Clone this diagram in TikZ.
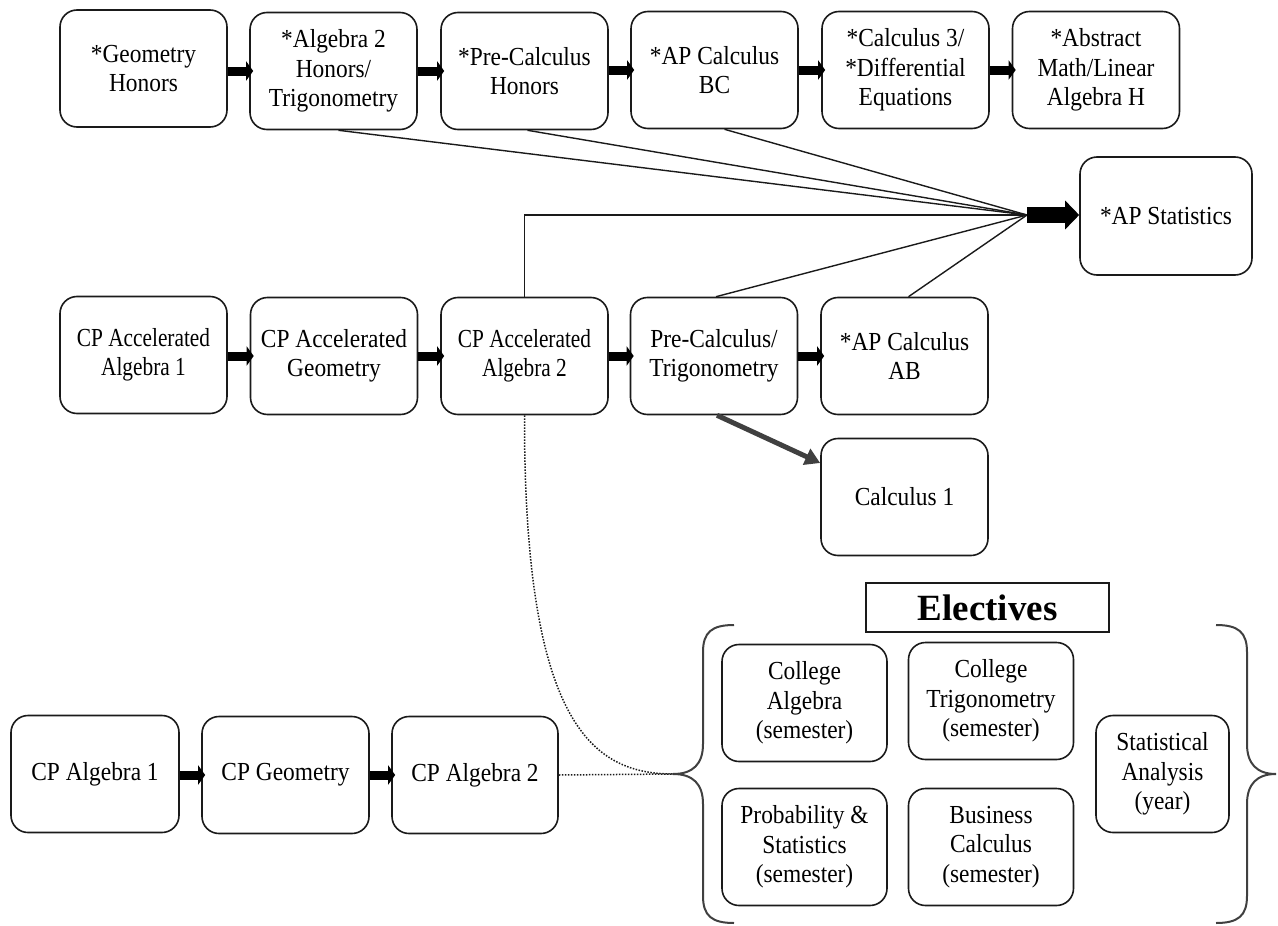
\documentclass[tikz,border=0pt]{standalone}
\usepackage{fontspec}
\setmainfont[FakeStretch=0.9]{Liberation Serif}
\newfontfamily\condfont[FakeStretch=0.82]{Liberation Serif}
\newfontfamily\plainserif{Liberation Serif}
\usetikzlibrary{arrows.meta,calc}
\definecolor{edge}{HTML}{1A1A1A}
\definecolor{darkgray}{HTML}{404040}
\begin{document}
\begin{tikzpicture}[x=1pt,y=-1pt,
  course/.style={draw=edge, line width=1.6pt, rounded corners=17pt, align=center,
    minimum width=167pt, minimum height=117pt, inner sep=2pt, fill=white,
    font=\fontsize{26}{29.5}\selectfont},
  cond/.style={font=\condfont\fontsize{26}{29.5}\selectfont},
  blockarrow/.style={line width=9pt, black, -{Triangle[length=7pt,width=19pt]}},
  bigarrow/.style={line width=16pt, black, -{Triangle[length=14pt,width=28pt]}},
  grayarrow/.style={line width=5pt, darkgray, -{Triangle[length=15pt,width=17pt]}},
  conn/.style={line width=1.4pt, edge},
  dotline/.style={line width=1.5pt, edge, dash pattern=on 1.5pt off 1.5pt},
  bracestyle/.style={line width=2pt, darkgray}
]
\useasboundingbox (0,0) rectangle (1278,926);

% top row
\node[course] (geoH) at (143.5,68.5) {*Geometry\\Honors};
\node[course] (alg2H) at (333.5,71) {*Algebra 2\\Honors/\\Trigonometry};
\node[course] (pcH) at (524.5,71) {*Pre-Calculus\\Honors};
\node[course] (bc) at (714.5,70) {*AP Calculus\\BC};
\node[course] (c3) at (905.5,70) {*Calculus 3/\\*Differential\\Equations};
\node[course] (abs) at (1096,70) {*Abstract\\Math/Linear\\Algebra H};
\node[course, minimum width=172pt, minimum height=118pt] (stat) at (1166,216) {*AP Statistics};

% middle row
\node[course, cond] (caa1) at (143.5,355) {CP Accelerated\\Algebra 1};
\node[course] (cag) at (334,356) {CP Accelerated\\Geometry};
\node[course, cond] (caa2) at (524.5,356) {CP Accelerated\\Algebra 2};
\node[course] (pct) at (714,356) {Pre-Calculus/\\Trigonometry};
\node[course] (ab) at (904.5,356) {*AP Calculus\\AB};
\node[course] (c1) at (904.5,497) {Calculus 1};

% bottom row
\node[course, minimum width=168pt] (a1) at (95,774) {CP Algebra 1};
\node[course] (g) at (285.5,775) {CP Geometry};
\node[course, minimum width=166pt] (a2) at (475,775) {CP Algebra 2};

% electives
\node[draw=edge, line width=2pt, minimum width=243pt, minimum height=49pt, inner sep=0pt,
  font=\plainserif\bfseries\fontsize{37}{40}\selectfont] (el) at (987.5,607.5) {Electives};
\node[course, minimum width=165pt] (ca) at (804.5,703) {College\\Algebra\\(semester)};
\node[course, minimum width=165pt] (ct) at (991,701) {College\\Trigonometry\\(semester)};
\node[course, minimum width=165pt] (ps) at (804.5,847) {Probability \&\\Statistics\\(semester)};
\node[course, minimum width=165pt] (bcalc) at (991,847) {Business\\Calculus\\(semester)};
\node[course, minimum width=133pt] (sa) at (1162.5,774) {Statistical\\Analysis\\(year)};

% braces
\coordinate (ltip) at (673,774);
\coordinate (rtip) at (1276,774);
\draw[bracestyle] (734,625) .. controls (712,625) and (703,632) .. (703,652) -- (703,744)
  .. controls (703,764) and (693,774) .. (ltip)
  .. controls (693,774) and (703,784) .. (703,804) -- (703,896)
  .. controls (703,916) and (712,923) .. (734,923);
\draw[bracestyle] (1216,625) .. controls (1238,625) and (1247,632) .. (1247,652) -- (1247,744)
  .. controls (1247,764) and (1257,774) .. (rtip)
  .. controls (1257,774) and (1247,784) .. (1247,804) -- (1247,896)
  .. controls (1247,916) and (1238,923) .. (1216,923);

% block arrows
\foreach \a/\b in {geoH/alg2H, alg2H/pcH, pcH/bc, bc/c3, c3/abs,
                   caa1/cag, cag/caa2, caa2/pct, pct/ab, a1/g, g/a2}
  \draw[blockarrow] (\b.west -| \a.east) -- ([xshift=4pt]\b.west);

% lines to AP Statistics
\coordinate (conv) at (1027,215);
\draw[conn] ([xshift=5pt]alg2H.south) -- (conv);
\draw[conn] ([xshift=3pt]pcH.south) -- (conv);
\draw[conn] ([xshift=10pt]bc.south) -- (conv);
\draw[conn] (caa2.north) |- (conv);
\draw[conn] ([xshift=2pt]pct.north) -- (conv);
\draw[conn] ([xshift=4pt]ab.north) -- (conv);
\draw[bigarrow] (conv) -- (conv -| stat.west);

% gray arrow to Calculus 1
\draw[grayarrow] ([xshift=3pt]pct.south) -- ([yshift=34pt]c1.west);

% dotted lines to electives
\draw[dotline] (caa2.south) .. controls (524,720) and (590,774) .. (ltip);
\draw[dotline] (a2.east) -- (ltip);
\end{tikzpicture}
\end{document}
